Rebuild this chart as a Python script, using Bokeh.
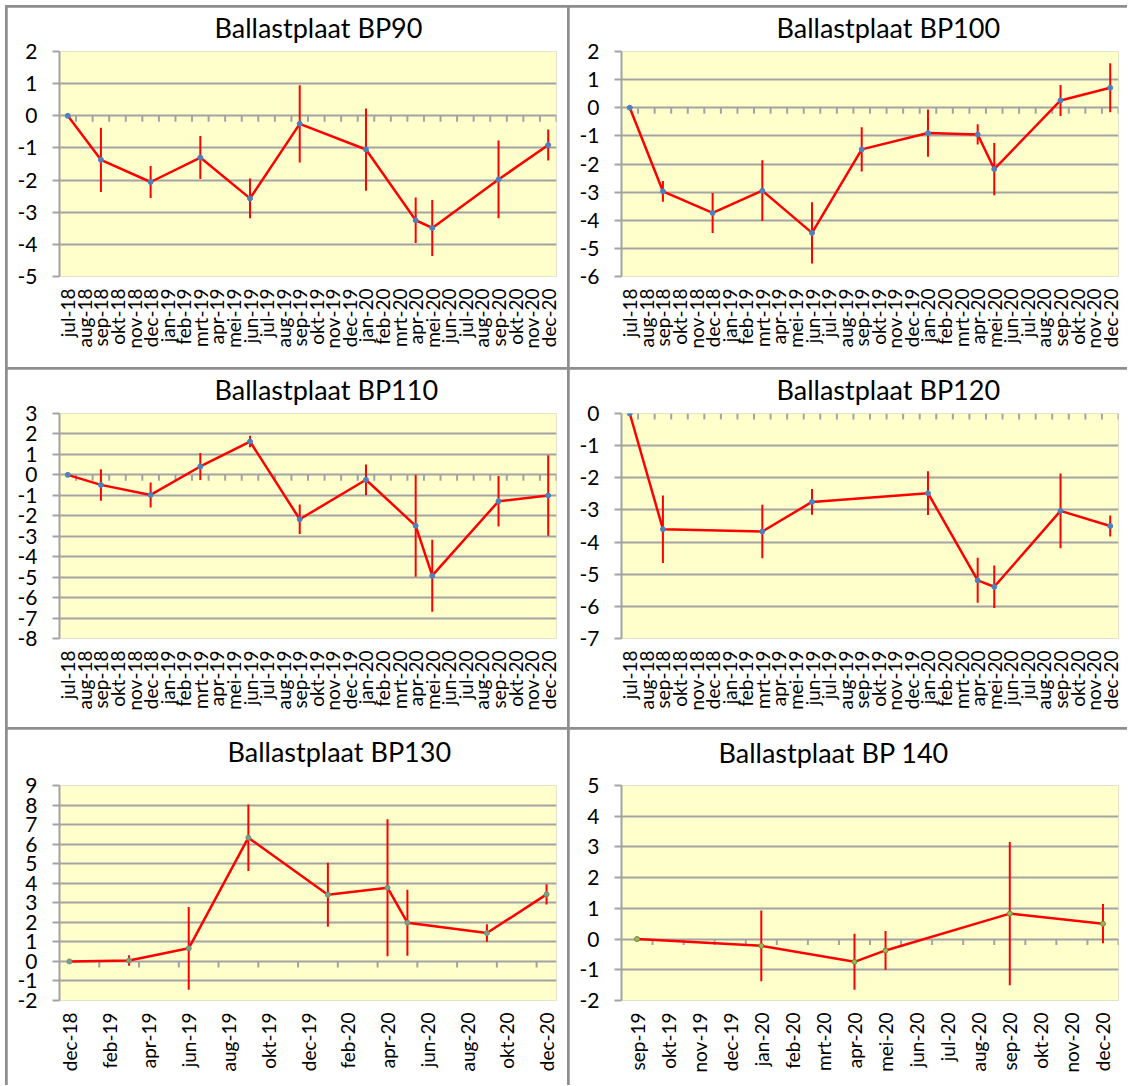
import math
from bokeh.plotting import figure
from bokeh.models import Range1d, FixedTicker, GridBox, Spacer, Title
from bokeh.layouts import column, row
from bokeh.embed import file_html
from bokeh.resources import INLINE

# ---------------- data ----------------
MONTHS_A = ["jul-18", "aug-18", "sep-18", "okt-18", "nov-18", "dec-18",
            "jan-19", "feb-19", "mrt-19", "apr-19", "mei-19", "jun-19",
            "jul-19", "aug-19", "sep-19", "okt-19", "nov-19", "dec-19",
            "jan-20", "feb-20", "mrt-20", "apr-20", "mei-20", "jun-20",
            "jul-20", "aug-20", "sep-20", "okt-20", "nov-20", "dec-20"]

MONTHS_BP130 = ["dec-18", "jan-19", "feb-19", "mrt-19", "apr-19", "mei-19",
                "jun-19", "jul-19", "aug-19", "sep-19", "okt-19", "nov-19",
                "dec-19", "jan-20", "feb-20", "mrt-20", "apr-20", "mei-20",
                "jun-20", "jul-20", "aug-20", "sep-20", "okt-20", "nov-20",
                "dec-20"]
BP130_TICK_LABELS = ["dec-18", "feb-19", "apr-19", "jun-19", "aug-19", "okt-19",
                     "dec-19", "feb-20", "apr-20", "jun-20", "aug-20", "okt-20",
                     "dec-20"]

MONTHS_BP140 = ["sep-19", "okt-19", "nov-19", "dec-19", "jan-20", "feb-20",
                "mrt-20", "apr-20", "mei-20", "jun-20", "jul-20", "aug-20",
                "sep-20", "okt-20", "nov-20", "dec-20"]

BP90_DATES = ["jul-18", "sep-18", "dec-18", "mrt-19", "jun-19", "sep-19",
              "jan-20", "apr-20", "mei-20", "sep-20", "dec-20"]
BP90_VALUES = [0, -1.37, -2.06, -1.30, -2.57, -0.25, -1.05, -3.25, -3.49, -1.98, -0.91]
BP90_ERRORS = [0, 1.00, 0.50, 0.67, 0.62, 1.20, 1.28, 0.71, 0.87, 1.21, 0.48]

BP100_DATES = ["jul-18", "sep-18", "dec-18", "mrt-19", "jun-19", "sep-19",
               "jan-20", "apr-20", "mei-20", "sep-20", "dec-20"]
BP100_VALUES = [0, -2.97, -3.74, -2.95, -4.45, -1.48, -0.90, -0.95, -2.18, 0.26, 0.71]
BP100_ERRORS = [0, 0.37, 0.71, 1.08, 1.09, 0.79, 0.84, 0.36, 0.93, 0.55, 0.87]

BP110_DATES = ["jul-18", "sep-18", "dec-18", "mrt-19", "jun-19", "sep-19",
               "jan-20", "apr-20", "mei-20", "sep-20", "dec-20"]
BP110_VALUES = [0, -0.49, -0.98, 0.41, 1.63, -2.17, -0.24, -2.49, -4.93, -1.29, -1.01]
BP110_ERRORS = [0, 0.77, 0.61, 0.66, 0.28, 0.72, 0.75, 2.49, 1.76, 1.23, 1.97]

BP120_DATES = ["jul-18", "sep-18", "mrt-19", "jun-19", "jan-20", "apr-20",
               "mei-20", "sep-20", "dec-20"]
BP120_VALUES = [0, -3.60, -3.67, -2.75, -2.48, -5.19, -5.39, -3.03, -3.50]
BP120_ERRORS = [0, 1.05, 0.83, 0.40, 0.68, 0.70, 0.66, 1.16, 0.33]

BP130_DATES = ["dec-18", "mrt-19", "jun-19", "sep-19", "jan-20", "apr-20",
               "mei-20", "sep-20", "dec-20"]
BP130_VALUES = [0, 0.05, 0.67, 6.33, 3.41, 3.77, 1.98, 1.45, 3.43]
BP130_ERRORS = [0, 0.27, 2.12, 1.70, 1.64, 3.50, 1.69, 0.45, 0.52]

BP140_DATES = ["sep-19", "jan-20", "apr-20", "mei-20", "sep-20", "dec-20"]
BP140_VALUES = [0, -0.22, -0.74, -0.37, 0.83, 0.50]
BP140_ERRORS = [0, 1.15, 0.91, 0.63, 2.33, 0.64]

# ---------------- style ----------------
GRID = "#a3a3a3"
BG = "#ffffcc"
RED = "#ff0000"
FONT = "Lato"
BORDER = "#8e8e8e"


def make_panel(title, axis_months, tick_labels, dates, values, errors,
               ymin, ymax, tick_step, w, h, top, fh, title_offset, title_gap,
               marker_fill, marker_line):
    n = len(axis_months)
    xs = [axis_months.index(d) for d in dates]
    lo = [v - e for v, e in zip(values, errors)]
    hi = [v + e for v, e in zip(values, errors)]
    left = 52
    fw = 497
    p = figure(width=w, height=h,
               x_range=Range1d(-0.5, n - 0.5), y_range=Range1d(ymin, ymax),
               output_backend="svg", toolbar_location=None,
               min_border_left=left, min_border_right=w - left - fw,
               min_border_top=top, min_border_bottom=h - top - fh)
    p.background_fill_color = BG
    p.border_fill_color = "white"
    p.outline_line_color = None

    # invisible spacer title (closest to frame) pushes the real title up
    p.add_layout(Title(text=" ", text_font_size=f"{title_gap}px", standoff=0,
                       text_color="white"), "above")
    p.add_layout(Title(text=title, align="left", offset=title_offset, standoff=0,
                       text_font=FONT, text_font_size="27px",
                       text_font_style="normal", text_color="black"), "above")

    yt = list(range(ymin, ymax + 1))
    p.yaxis.ticker = FixedTicker(ticks=yt)
    p.yaxis.major_label_overrides = {v: str(v) for v in yt}
    p.ygrid.ticker = FixedTicker(ticks=yt)
    p.ygrid.grid_line_color = GRID
    p.ygrid.grid_line_width = 2
    p.xgrid.visible = False

    p.yaxis.axis_line_color = GRID
    p.yaxis.axis_line_width = 2
    p.yaxis.major_tick_line_color = GRID
    p.yaxis.major_tick_line_width = 2
    p.yaxis.major_tick_out = 7
    p.yaxis.major_tick_in = 0
    p.yaxis.minor_tick_line_color = None
    p.yaxis.major_label_text_font = FONT
    p.yaxis.major_label_text_font_size = "21px"
    p.yaxis.major_label_text_color = "black"
    p.yaxis.major_label_standoff = 15

    label_pos = [axis_months.index(t) for t in tick_labels]
    p.xaxis.ticker = FixedTicker(ticks=label_pos)
    p.xaxis.major_label_overrides = {i: axis_months[i] for i in label_pos}
    p.xaxis.axis_line_color = None
    p.xaxis.major_tick_line_color = None
    p.xaxis.minor_tick_line_color = None
    p.xaxis.major_tick_out = 0
    p.xaxis.major_tick_in = 0
    p.xaxis.major_label_orientation = math.pi / 2
    p.xaxis.major_label_text_font = FONT
    p.xaxis.major_label_text_font_size = "19px"
    p.xaxis.major_label_text_color = "black"
    p.xaxis.major_label_standoff = 12

    # tick marks on the zero line, at month boundaries
    if tick_step == 1:
        tick_xs = [k + 0.5 for k in range(0, n)]
    else:
        tick_xs = [k - 0.5 for k in range(tick_step, n, tick_step)]
    p.ray(x=tick_xs, y=[0] * len(tick_xs), length=6, length_units="screen",
          angle=-math.pi / 2, line_color=GRID, line_width=2)

    p.line(xs, values, line_color=RED, line_width=2.5, line_join="round")
    p.segment(x0=xs, y0=lo, x1=xs, y1=hi, line_color=RED, line_width=2)
    p.scatter(xs, values, size=5, fill_color=marker_fill, line_color=marker_line,
              line_width=1)
    return p


BLUE_F, BLUE_L = "#4f81bd", "#4f81bd"

p1 = make_panel("Ballastplaat BP90", MONTHS_A, MONTHS_A, BP90_DATES, BP90_VALUES,
                BP90_ERRORS, -5, 2, 1, 560, 360, 44, 225, 155, 5, BLUE_F, BLUE_L)
p2 = make_panel("Ballastplaat BP100", MONTHS_A, MONTHS_A, BP100_DATES, BP100_VALUES,
                BP100_ERRORS, -6, 2, 1, 558, 360, 44, 225, 155, 5, BLUE_F, BLUE_L)
p3 = make_panel("Ballastplaat BP110", MONTHS_A, MONTHS_A, BP110_DATES, BP110_VALUES,
                BP110_ERRORS, -8, 3, 1, 560, 358, 44, 225, 155, 5, BLUE_F, BLUE_L)
p4 = make_panel("Ballastplaat BP120", MONTHS_A, MONTHS_A, BP120_DATES, BP120_VALUES,
                BP120_ERRORS, -7, 0, 1, 558, 358, 44, 225, 155, 5, BLUE_F, BLUE_L)
p5 = make_panel("Ballastplaat BP130", MONTHS_BP130, BP130_TICK_LABELS, BP130_DATES,
                BP130_VALUES, BP130_ERRORS, -2, 9, 2, 560, 356, 56, 215, 168, 14,
                "#7f9f86", "#6f8f76")
p6 = make_panel("Ballastplaat BP 140", MONTHS_BP140, MONTHS_BP140, BP140_DATES,
                BP140_VALUES, BP140_ERRORS, -2, 5, 1, 558, 356, 53, 218, 97, 13,
                "#9bbb59", "#6e8a3a")

grid = GridBox(children=[(Spacer(width=0, height=0), 0, 0),
                         (p1, 1, 1), (p2, 1, 2),
                         (p3, 2, 1), (p4, 2, 2),
                         (p5, 3, 1), (p6, 3, 2)],
               spacing=2, styles={"background-color": BORDER})

layout = column(Spacer(width=1, height=5), row(Spacer(width=5, height=1), grid))

open("out.html", "w").write(file_html(layout, INLINE))
